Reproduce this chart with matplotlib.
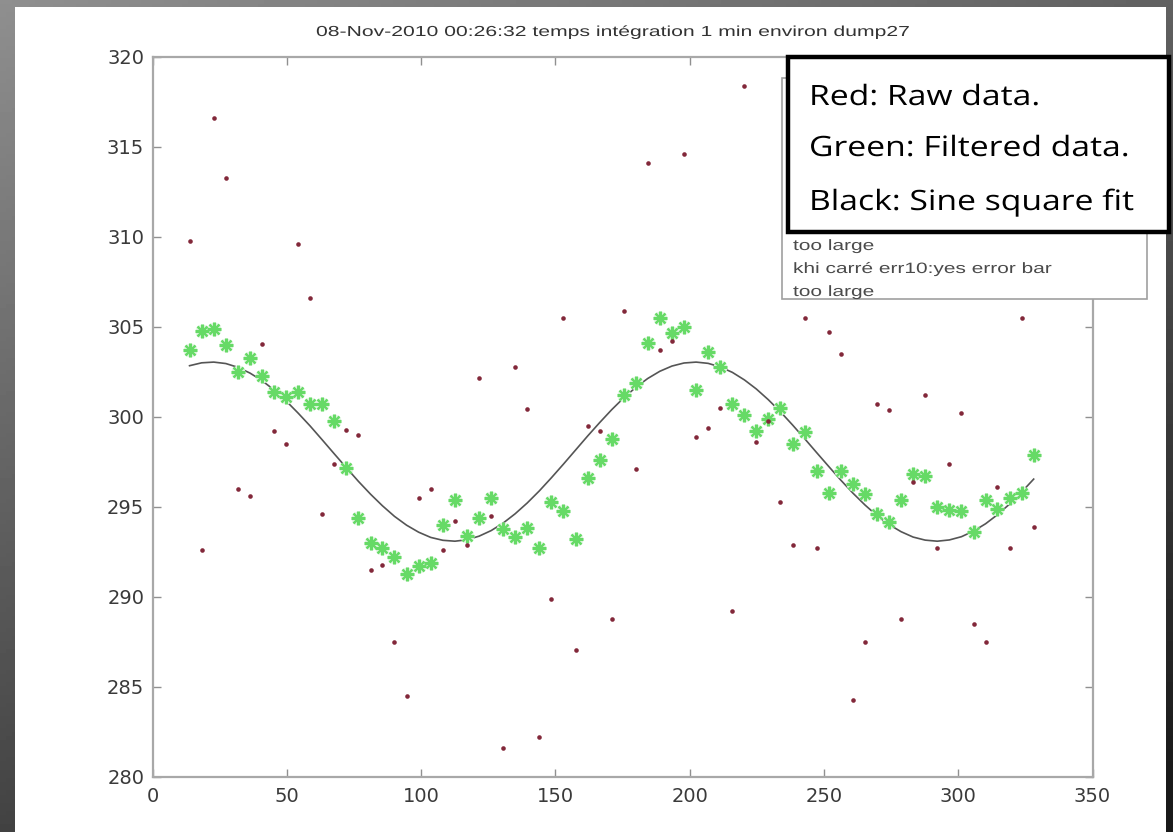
import numpy as np
import matplotlib
matplotlib.use("Agg")
import matplotlib.pyplot as plt
from matplotlib.patches import Rectangle, PathPatch
from matplotlib.textpath import TextPath
from matplotlib.font_manager import FontProperties
from matplotlib.transforms import Affine2D, IdentityTransform

# sample positions (x) shared by raw and filtered series
x_samples = [13.8, 18.3, 22.8, 27.3, 31.8, 36.3, 40.7, 45.2, 49.7, 54.2,
             58.7, 63.2, 67.7, 72.2, 76.7, 81.2, 85.6, 90.1, 94.6, 99.1,
             103.6, 108.1, 112.6, 117.1, 121.6, 126.1, 130.5, 135.0, 139.5, 144.0,
             148.5, 153.0, 157.5, 162.0, 166.5, 171.0, 175.5, 179.9, 184.4, 188.9,
             193.4, 197.9, 202.4, 206.9, 211.4, 215.9, 220.4, 224.8, 229.3, 233.8,
             238.3, 242.8, 247.3, 251.8, 256.3, 260.8, 265.3, 269.7, 274.2, 278.7,
             283.2, 287.7, 292.2, 296.7, 301.2, 305.7, 310.2, 314.6, 319.1, 323.6,
             328.1]

raw_vals = [309.8, 292.6, 316.6, 313.3, 296.0, 295.6, 304.05, 299.2, 298.5, 309.6,
            306.6, 294.6, 297.4, 299.3, 299.0, 291.5, 291.8, 287.5, 284.5, 295.5,
            296.0, 292.6, 294.2, 292.9, 302.15, 294.5, 281.6, 302.8, 300.45, 282.2,
            289.9, 305.5, 287.05, 299.5, 299.2, 288.8, 305.9, 297.1, 314.1, 303.75,
            304.2, 314.6, 298.9, 299.4, 300.5, 289.2, 318.4, 298.6, 299.8, 295.3,
            292.9, 305.5, 292.75, 304.7, 303.5, 284.3, 287.5, 300.7, 300.4, 288.8,
            296.4, 301.2, 292.7, 297.4, 300.2, 288.5, 287.5, 296.1, 292.75, 305.5,
            293.9]

filt_vals = [303.7, 304.8, 304.9, 304.0, 302.5, 303.3, 302.3, 301.4, 301.1, 301.4,
             300.7, 300.7, 299.8, 297.15, 294.4, 293.0, 292.7, 292.2, 291.3, 291.7,
             291.9, 294.0, 295.4, 293.4, 294.4, 295.5, 293.8, 293.35, 293.85, 292.75,
             295.3, 294.8, 293.2, 296.6, 297.6, 298.8, 301.2, 301.9, 304.1, 305.5,
             304.65, 305.0, 301.5, 303.6, 302.8, 300.7, 300.1, 299.2, 299.9, 300.5,
             298.5, 299.15, 297.0, 295.8, 297.0, 296.3, 295.7, 294.6, 294.15, 295.4,
             296.85, 296.7, 295.0, 294.85, 294.8, 293.6, 295.4, 294.9, 295.5, 295.8,
             297.9]

fit_vals = [302.85, 303.01, 303.05, 302.97, 302.76, 302.44, 302.03, 301.51, 300.90, 300.22,
            299.50, 298.73, 297.95, 297.18, 296.42, 295.71, 295.07, 294.48, 293.99, 293.60,
            293.31, 293.15, 293.10, 293.18, 293.38, 293.69, 294.10, 294.62, 295.22, 295.89,
            296.62, 297.38, 298.16, 298.94, 299.69, 300.41, 301.07, 301.64, 302.14, 302.54,
            302.83, 303.00, 303.05, 302.98, 302.78, 302.48, 302.06, 301.56, 300.96, 300.29,
            299.56, 298.80, 298.02, 297.25, 296.49, 295.77, 295.11, 294.53, 294.03, 293.63,
            293.33, 293.16, 293.10, 293.17, 293.35, 293.66, 294.07, 294.57, 295.16, 295.83,
            296.55]

title_text = "08-Nov-2010 00:26:32 temps intégration 1 min environ dump27"
legend_lines = ["too large", "khi carré err10:yes error bar", "too large"]
note_lines = ["Red: Raw data.", "Green: Filtered data.", "Black: Sine square fit"]

W, H = 1173, 832
fig = plt.figure(figsize=(W / 100, H / 100), dpi=100)


def fx(px):
    return px / W


def fy(py):
    return 1 - py / H


def wide_text(px, baseline, s, size_px, family, color, sx, zorder):
    # the source screenshot is stretched sideways, so draw glyph paths scaled in x
    tp = TextPath((0, 0), s, size=size_px, prop=FontProperties(family=family))
    tr = Affine2D().scale(sx, 1).translate(px, H - baseline)
    fig.add_artist(PathPatch(tp, transform=tr + IdentityTransform(), facecolor=color,
                             edgecolor="none", zorder=zorder))


def natural_width(s, size_px, family):
    tp = TextPath((0, 0), s, size=size_px, prop=FontProperties(family=family))
    return tp.get_extents().width


# dark gradient slide background
bg = fig.add_axes([0, 0, 1, 1], zorder=-10)
gy, gx = np.mgrid[0:1:200j, 0:1:200j]
shade = 0.56 - 0.40 * (0.75 * gy + 0.45 * gx)
bg.imshow(np.clip(shade, 0.1, 1), cmap="gray", vmin=0, vmax=1, aspect="auto",
          extent=[0, 1, 0, 1], origin="upper")
bg.set_axis_off()
fig.add_artist(Rectangle((fx(15), 0), fx(1166) - fx(15), fy(7), transform=fig.transFigure,
                         facecolor="white", edgecolor="none", zorder=-5))

ax = fig.add_axes([fx(152.5), fy(777), fx(1092.5) - fx(152.5), fy(57) - fy(777)])
ax.set_facecolor("white")

ax.plot(x_samples, fit_vals, color="#555555", lw=1.2, zorder=2)
ax.plot(x_samples, filt_vals, linestyle="none", marker="o", markersize=10,
        color="#dff5df", markeredgewidth=0, zorder=3)
ax.plot(x_samples, filt_vals, linestyle="none", marker="+", markersize=10,
        markeredgewidth=2.2, color="#66da66", zorder=3)
ax.plot(x_samples, filt_vals, linestyle="none", marker="x", markersize=7,
        markeredgewidth=1.8, color="#66da66", zorder=3)
ax.plot(x_samples, raw_vals, linestyle="none", marker="o", markersize=3.3,
        color="#82283a", markeredgewidth=0, zorder=4)

ax.set_xlim(0, 350)
ax.set_ylim(280, 320)
ax.set_xticks(range(0, 351, 50))
ax.set_yticks(range(280, 321, 5))
for s in ax.spines.values():
    s.set_color("#a8a8a8")
    s.set_linewidth(1.6)
ax.tick_params(direction="in", length=6, width=1, color="#909090", top=True, right=True,
               labelsize=14, labelcolor="#3a3a3a")
ax.tick_params(axis="x", pad=7)
ax.tick_params(axis="y", pad=6)
for lbl in ax.get_xticklabels() + ax.get_yticklabels():
    lbl.set_family("DejaVu Sans")

# title, stretched to span the same width as in the screenshot
t_sx = 592 / natural_width(title_text, 14.5, "Liberation Sans")
wide_text(316, 36, title_text, 14.5, "Liberation Sans", "#333333", t_sx, 3)

# matlab legend box (partly hidden)
fig.add_artist(Rectangle((fx(782), fy(299)), fx(1147) - fx(782), fy(78) - fy(299),
                         transform=fig.transFigure, facecolor="white",
                         edgecolor="#a0a0a0", lw=1.2, zorder=5))
l_sx = 257 / natural_width(legend_lines[1], 15, "Liberation Sans")
for base, line in zip([250, 273, 296], legend_lines):
    wide_text(793, base, line, 15, "Liberation Sans", "#4a4a4a", l_sx, 6)

# annotation box on top
fig.add_artist(Rectangle((fx(788), fy(232)), fx(1169) - fx(788), fy(57) - fy(232),
                         transform=fig.transFigure, facecolor="white",
                         edgecolor="black", lw=3.2, zorder=7))
n_sx = 321 / natural_width(note_lines[2], 28, "Open Sans")
for base, line in zip([105, 156, 210], note_lines):
    wide_text(809, base, line, 28, "Open Sans", "black", n_sx, 8)

fig.savefig("out.png", dpi=100)
